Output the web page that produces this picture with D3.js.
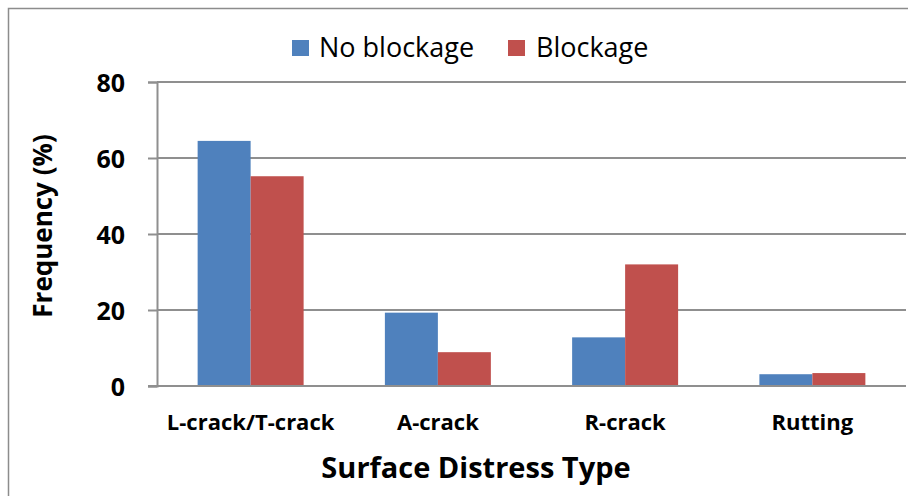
<!DOCTYPE html>
<html>
<head>
<meta charset="utf-8">
<script src="https://cdn.jsdelivr.net/npm/d3@7/dist/d3.min.js"></script>
<style>
  html, body { margin: 0; padding: 0; background: #fff; }
  svg { display: block; }
  text { font-family: "Open Sans", "DejaVu Sans", sans-serif; fill: #000; }
</style>
</head>
<body>
<svg id="chart" width="908" height="496"></svg>
<script>
// Surface distress frequency by blockage condition
const categories = ["L-crack/T-crack", "A-crack", "R-crack", "Rutting"];
const seriesNames = ["No blockage", "Blockage"];
const noBlockage = [64.5, 19.3, 12.8, 3.1];
const blockage = [55.2, 8.9, 32.0, 3.4];
const yTicks = [0, 20, 40, 60, 80];
const colors = ["#4F81BD", "#C0504D"];

const W = 908, H = 496;
const plot = { left: 157, right: 906, top: 82, bottom: 386 };

const svg = d3.select("#chart");

// outer chart frame (extends past the window on right/bottom)
svg.append("rect")
  .attr("x", 8.5).attr("y", 8.5)
  .attr("width", 930).attr("height", 520)
  .attr("fill", "#fff")
  .attr("stroke", "#8c8c8c").attr("stroke-width", 1.5);

const x0 = d3.scaleBand()
  .domain(categories)
  .range([plot.left, plot.right])
  .paddingInner(0.434)
  .paddingOuter(0.217);

const x1 = d3.scaleBand()
  .domain(seriesNames)
  .range([0, x0.bandwidth()]);

const y = d3.scaleLinear()
  .domain([0, 80])
  .range([plot.bottom, plot.top]);

const gridColor = "#8f8f8f";

// horizontal gridlines
svg.append("g")
  .selectAll("line")
  .data(yTicks)
  .join("line")
  .attr("x1", plot.left).attr("x2", plot.right)
  .attr("y1", d => y(d)).attr("y2", d => y(d))
  .attr("stroke", gridColor).attr("stroke-width", 2);

// y axis with outward ticks
const yAxis = svg.append("g")
  .attr("transform", `translate(${plot.left},0)`)
  .call(d3.axisLeft(y).tickValues(yTicks).tickSize(9).tickPadding(23).tickFormat(d3.format("d")));
yAxis.select(".domain").attr("stroke", gridColor).attr("stroke-width", 2);
yAxis.selectAll(".tick line").attr("stroke", gridColor).attr("stroke-width", 2);
yAxis.selectAll(".tick text")
  .attr("font-family", "'Open Sans', sans-serif")
  .attr("font-size", 25).attr("font-weight", "bold")
  .attr("fill", "#000")
  .attr("dy", "0.36em");

// bars
const series = [noBlockage, blockage];
const groups = svg.append("g")
  .selectAll("g")
  .data(categories)
  .join("g")
  .attr("transform", d => `translate(${x0(d)},0)`);

groups.selectAll("rect")
  .data((c, i) => seriesNames.map((s, k) => ({ s, v: series[k][i], k })))
  .join("rect")
  .attr("x", d => x1(d.s))
  .attr("width", x1.bandwidth())
  .attr("y", d => y(d.v))
  .attr("height", d => y(0) - y(d.v))
  .attr("fill", d => colors[d.k]);

// redraw baseline on top of bars
svg.append("line")
  .attr("x1", plot.left - 9).attr("x2", plot.right)
  .attr("y1", y(0)).attr("y2", y(0))
  .attr("stroke", gridColor).attr("stroke-width", 2);

// category labels
svg.append("g")
  .selectAll("text")
  .data(categories)
  .join("text")
  .attr("x", d => x0(d) + x0.bandwidth() / 2)
  .attr("y", 430)
  .attr("text-anchor", "middle")
  .attr("font-size", 22).attr("font-weight", "bold")
  .text(d => d);

// axis titles
svg.append("text")
  .attr("x", 476).attr("y", 478)
  .attr("text-anchor", "middle")
  .attr("font-size", 29).attr("font-weight", "bold")
  .text("Surface Distress Type");

svg.append("text")
  .attr("transform", "translate(52,226) rotate(-90)")
  .attr("text-anchor", "middle")
  .attr("font-size", 26).attr("font-weight", "bold")
  .text("Frequency (%)");

// legend
const legendItems = [
  { name: seriesNames[0], color: colors[0], sx: 292, tx: 319 },
  { name: seriesNames[1], color: colors[1], sx: 508, tx: 536 }
];
const lg = svg.append("g");
lg.selectAll("rect")
  .data(legendItems)
  .join("rect")
  .attr("x", d => d.sx).attr("y", 40)
  .attr("width", 17).attr("height", 16)
  .attr("fill", d => d.color);
lg.selectAll("text")
  .data(legendItems)
  .join("text")
  .attr("x", d => d.tx).attr("y", 57)
  .attr("font-size", 27)
  .text(d => d.name);
</script>
</body>
</html>
